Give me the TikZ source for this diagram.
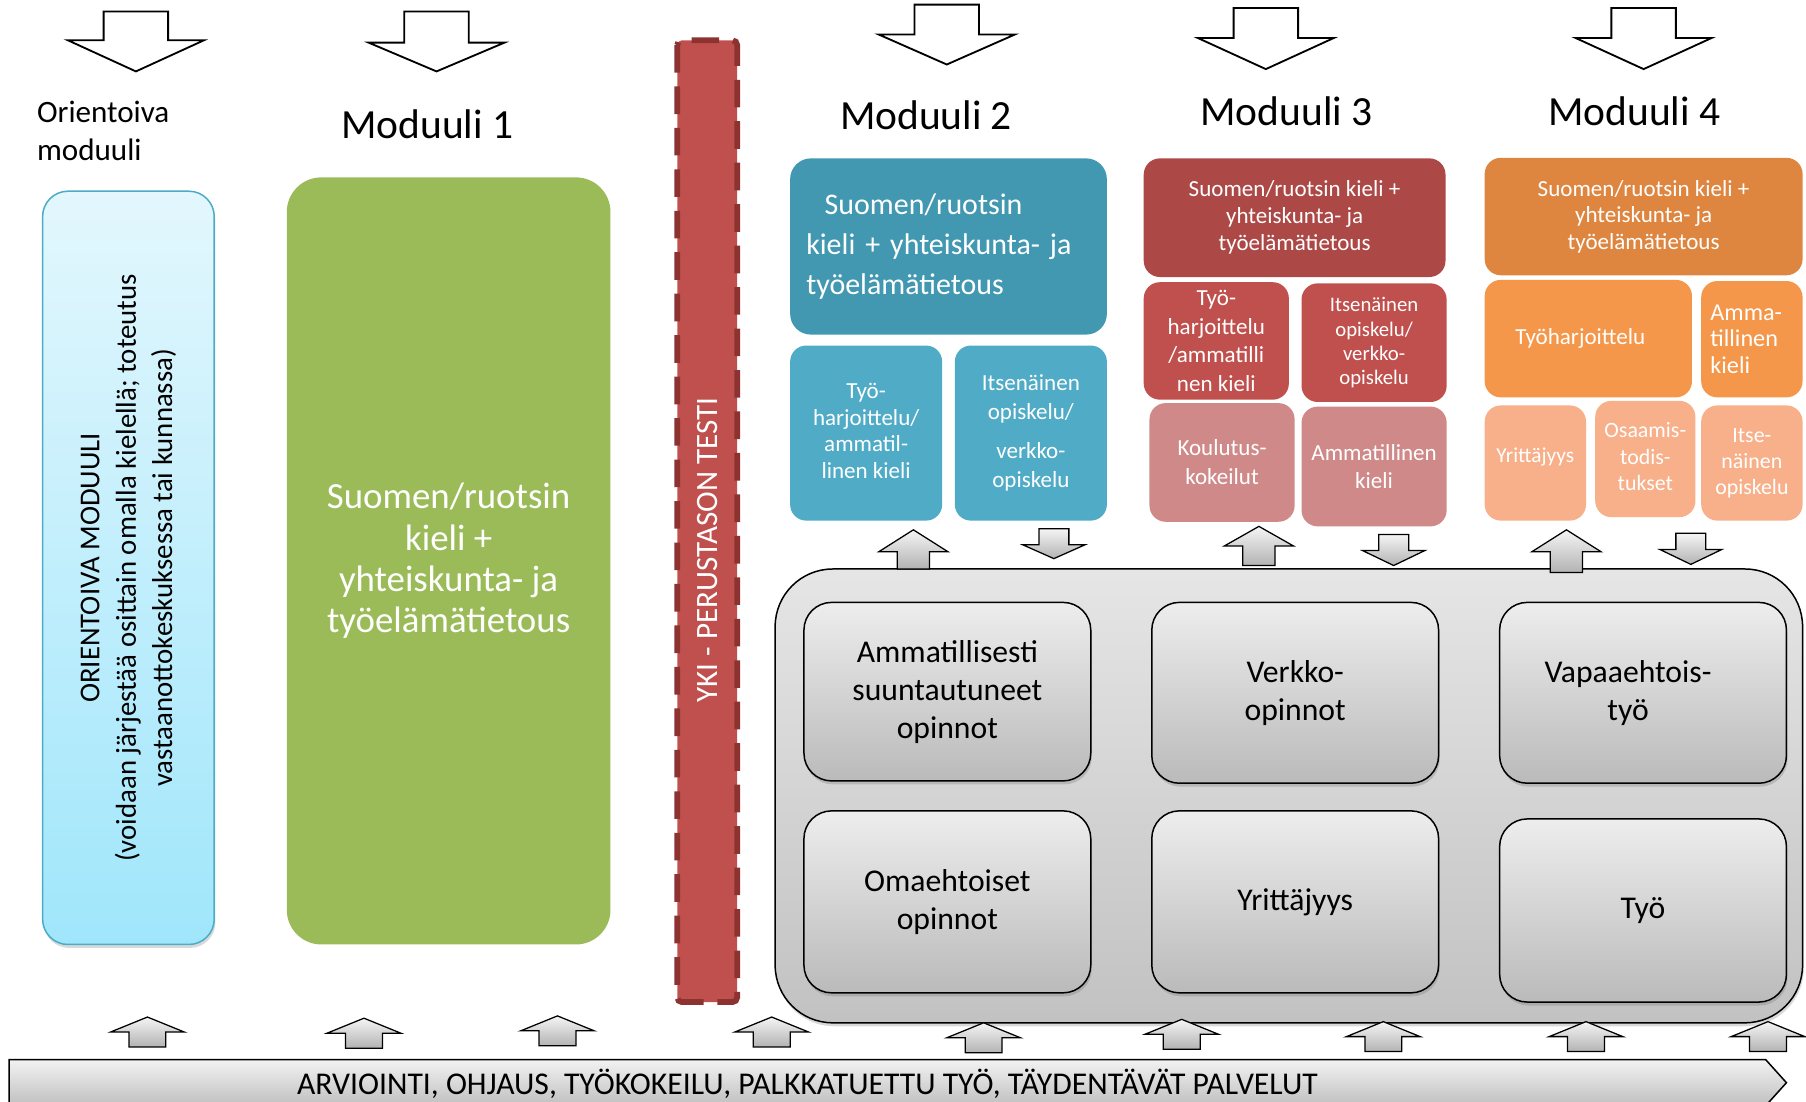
\documentclass[tikz,border=0pt]{standalone}
\usepackage{fontspec}
\setmainfont{Carlito}
\usetikzlibrary{shadows}
\newcommand\fz[2]{\fontsize{#1pt}{#2pt}\selectfont}
\definecolor{tealA}{HTML}{4398B1}
\definecolor{tealB}{HTML}{4FABC6}
\definecolor{redA}{HTML}{AC4846}
\definecolor{redB}{HTML}{C0504D}
\definecolor{redC}{HTML}{CF8988}
\definecolor{orA}{HTML}{DE8640}
\definecolor{orB}{HTML}{F5974A}
\definecolor{orC}{HTML}{F7B08A}
\definecolor{grn}{HTML}{9BBB59}
\definecolor{ykiedge}{HTML}{8C3331}
\definecolor{orTop}{HTML}{E3F7FD}
\definecolor{orBot}{HTML}{A0E6FB}
\definecolor{orEdge}{HTML}{4BACC6}
\begin{document}
\begin{tikzpicture}[x=1pt,y=-1pt,
  colbox/.style={rectangle, rounded corners=14pt, inner sep=0pt, align=center, text=white},
  graybox/.style={rectangle, rounded corners=24pt, inner sep=0pt, draw=black, line width=1.3pt,
     top color=black!7, bottom color=black!27, align=center, font=\fz{27.5}{33},
     drop shadow={shadow xshift=1pt, shadow yshift=-3pt, opacity=0.35}},
  outarrow/.style={draw=black, line width=1.6pt, fill=white, line join=miter},
  grayarrow/.style={draw=black, line width=1.1pt, top color=black!4, bottom color=black!30, line join=miter},
  title/.style={inner sep=0pt, font=\fz{36}{40}},
  pics/arrdn/.style n args={5}{code={\draw[#5] (0,0) -- (#1,-#3) -- (#2,-#3) -- (#2,-#4) -- (-#2,-#4) -- (-#2,-#3) -- (-#1,-#3) -- cycle;}},
  pics/arrup/.style n args={5}{code={\draw[#5] (0,0) -- (#1,#3) -- (#2,#3) -- (#2,#4) -- (-#2,#4) -- (-#2,#3) -- (-#1,#3) -- cycle;}}
]
\useasboundingbox (0,0) rectangle (1568,956);
\clip (0,0) rectangle (1568,956);

% top outline arrows
\pic at (118,62) {arrdn={59}{28}{27}{52}{outarrow}};
\pic at (379,62) {arrdn={59}{28}{25}{52}{outarrow}};
\pic at (822,56) {arrdn={59}{28}{26}{52}{outarrow}};
\pic at (1099,60) {arrdn={59}{28}{27}{53}{outarrow}};
\pic at (1427,60) {arrdn={59}{28}{27}{53}{outarrow}};

% titles
\node[inner sep=0pt, anchor=west, align=left, font=\fz{27}{33}] (ortitle) at (32,114) {Orientoiva\\moduuli};
\node[title] (m1title) at (371,108) {Moduuli 1};
\node[title] (m2title) at (804,100) {Moduuli 2};
\node[title] (m3title) at (1117,97) {Moduuli 3};
\node[title] (m4title) at (1419,97) {Moduuli 4};

% orientoiva box
\node[rectangle, rounded corners=22pt, minimum width=149pt, minimum height=654pt, inner sep=0pt,
      draw=orEdge, line width=1.3pt, top color=orTop, bottom color=orBot,
      drop shadow={shadow xshift=1pt, shadow yshift=-3pt, opacity=0.3}] (orbox) at (111.5,493) {};
\node[rotate=90, align=center, inner sep=0pt, font=\fz{25}{31.5}] (ortxt) at (orbox.center)
  {ORIENTOIVA MODUULI\\(voidaan järjestää osittain omalla kielellä; toteutus\\vastaanottokeskuksessa tai kunnassa)};

% moduuli 1
\node[colbox, rounded corners=30pt, fill=grn, minimum width=281pt, minimum height=666pt, font=\fz{32}{36}] (m1box) at (389.5,487)
  {Suomen/ruotsin\\kieli +\\yhteiskunta- ja\\työelämätietous};

% YKI bar
\node[rectangle, rotate=90, rounded corners=4pt, fill=redB, draw=ykiedge, line width=5pt, dash pattern=on 24pt off 12pt,
      minimum width=835pt, minimum height=52pt, inner sep=0pt, text=white, font=\fz{27}{30}] (yki) at (614,452.5)
  {YKI - PERUSTASON TESTI\hspace*{50pt}};

% moduuli 2
\node[colbox, rounded corners=18pt, fill=tealA, minimum width=275pt, minimum height=153pt, text width=247pt, align=left, font=\fz{26}{35}] (m2top) at (823.5,214)
  {\hspace*{16pt}Suomen/ruotsin\\kieli + yhteiskunta- ja\\työelämätietous};
\node[colbox, fill=tealB, minimum width=132pt, minimum height=152pt, font=\fz{20}{23}] (m2a) at (752,376)
  {\raisebox{4pt}{Työ-}\\\raisebox{4pt}{harjoittelu/}\\\raisebox{4pt}{ammatil-}\\\raisebox{4pt}{linen kieli}};
\node[colbox, fill=tealB, minimum width=132pt, minimum height=152pt, font=\fz{20}{25.5}] (m2b) at (895,376)
  {Itsenäinen\\opiskelu/\\[8pt]verkko-\\opiskelu};

% moduuli 3
\node[colbox, fill=redA, minimum width=262pt, minimum height=103pt, font=\fz{20}{23.5}] (m3top) at (1124,189)
  {Suomen/ruotsin kieli +\\yhteiskunta- ja\\työelämätietous};
\node[colbox, fill=redB, minimum width=126pt, minimum height=102pt, font=\fz{20}{25}] (m3a) at (1056,296)
  {Työ-\\harjoittelu\\/ammatilli\\nen kieli};
\node[colbox, fill=redB, minimum width=126pt, minimum height=103pt, font=\fz{18}{21}] (m3b) at (1193,297.5)
  {Itsenäinen\\opiskelu/\\verkko-\\opiskelu};
\node[colbox, fill=redC, minimum width=126pt, minimum height=103pt, font=\fz{20}{25}] (m3c) at (1061,401.5)
  {Koulutus-\\kokeilut};
\node[colbox, fill=redC, minimum width=126pt, minimum height=104pt, font=\fz{20}{25}] (m3d) at (1193,405)
  {Ammatillinen\\kieli};

% moduuli 4
\node[colbox, fill=orA, minimum width=276pt, minimum height=102pt, font=\fz{20}{23}] (m4top) at (1427,188)
  {Suomen/ruotsin kieli +\\yhteiskunta- ja\\työelämätietous};
\node[colbox, fill=orB, minimum width=180pt, minimum height=102pt, font=\fz{20}{24}] (m4a) at (1379,294)
  {\hspace*{-14pt}Työharjoittelu};
\node[colbox, fill=orB, minimum width=88pt, minimum height=101pt, text width=72pt, align=left, font=\fz{21}{23}] (m4b) at (1521,294.5)
  {Amma-\\tillinen\\kieli};
\node[colbox, fill=orC, minimum width=88pt, minimum height=100pt, font=\fz{18.5}{21}] (m4c) at (1333,402)
  {\raisebox{14pt}{Yrittäjyys}};
\node[colbox, fill=orC, minimum width=87pt, minimum height=101pt, font=\fz{19}{23}] (m4d) at (1428.5,398.5)
  {\raisebox{4pt}{Osaamis-}\\\raisebox{4pt}{todis-}\\\raisebox{4pt}{tukset}};
\node[colbox, fill=orC, minimum width=88pt, minimum height=100pt, font=\fz{19}{22.5}] (m4e) at (1521,402)
  {Itse-\\näinen\\opiskelu};

% container
\node[rectangle, rounded corners=50pt, minimum width=892pt, minimum height=394pt, inner sep=0pt, draw=black, line width=1.3pt,
      top color=black!10, bottom color=black!24,
      drop shadow={shadow xshift=1pt, shadow yshift=-3pt, opacity=0.3}] (cont) at (1119,691) {};
\node[graybox, minimum width=249pt, minimum height=155pt] (ga) at (822.5,600.5) {Ammatillisesti\\suuntautuneet\\opinnot};
\node[graybox, minimum width=249pt, minimum height=157pt] (gb) at (1124.5,601.5) {Verkko-\\opinnot};
\node[graybox, minimum width=249pt, minimum height=157pt] (gc) at (1426.5,601.5) {Vapaaehtois-\hspace*{26pt}\\työ\hspace*{26pt}};
\node[graybox, minimum width=249pt, minimum height=158pt] (gd) at (822.5,783) {Omaehtoiset\\opinnot};
\node[graybox, minimum width=249pt, minimum height=158pt] (ge) at (1124.5,783) {Yrittäjyys};
\node[graybox, minimum width=249pt, minimum height=159pt] (gf) at (1426.5,790.5) {Työ};

% arrows between modules and container
\pic at (793,460) {arrup={30}{14}{19}{34}{grayarrow}};
\pic at (915,485) {arrdn={27}{13}{12}{26}{grayarrow}};
\pic at (1093,457) {arrup={30}{14}{17}{34}{grayarrow}};
\pic at (1210,491) {arrdn={27}{13}{13}{27}{grayarrow}};
\pic at (1360,460) {arrup={30}{14}{19}{37}{grayarrow}};
\pic at (1468,490) {arrdn={27}{13}{13}{27}{grayarrow}};

% bottom bar
\draw[line width=1.3pt, top color=black!5, bottom color=black!25] (8,920) -- (1533,920) -- (1551,940) -- (1533,960) -- (8,960) -- cycle;
\node[inner sep=0pt, font=\fz{27.5}{30}] (bartxt) at (701,941) {ARVIOINTI, OHJAUS, TYÖKOKEILU, PALKKATUETTU TYÖ, TÄYDENTÄVÄT PALVELUT};

% bottom up arrows
\foreach \cx/\ty in {128/883, 316/884, 484/882, 670/883, 854/888, 1026/885, 1201/887, 1377/887, 1535/887}
  \pic at (\cx,\ty) {arrup={32}{16}{13}{26}{grayarrow}};
\end{tikzpicture}
\end{document}
